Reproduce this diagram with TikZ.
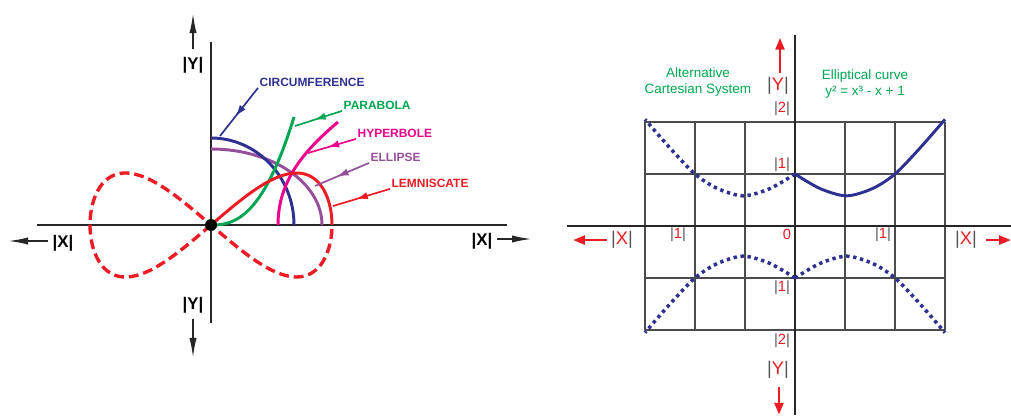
\documentclass[tikz,border=0pt]{standalone}
\usepackage{fontspec}
\setmainfont{Liberation Sans}
\usetikzlibrary{arrows.meta, decorations.markings}
\definecolor{colorAzul}{HTML}{2E3192}
\definecolor{colorVerde}{HTML}{00A651}
\definecolor{colorMagenta}{HTML}{EC008C}
\definecolor{colorMorado}{HTML}{96509B}
\definecolor{colorRojo}{HTML}{ED1C24}
\definecolor{colorBarra}{HTML}{555555}
\newcommand{\barras}[1]{{\color{colorBarra}|}{\color{colorRojo}#1}{\color{colorBarra}|}}

\begin{document}
\begin{tikzpicture}[x=0.025cm, y=0.025cm, >=Latex,
        eje/.style={line width=1.8pt, black!85},
        flecha/.style={line width=1.3pt, black!85, -{Latex[length=5mm,width=1.8mm]}},
        flechaRoja/.style={line width=2pt, colorRojo, -{Triangle[length=3mm,width=2.2mm]}},
        curva/.style={line width=2.1pt},
        solida/.style={curva, colorAzul},
        punteada/.style={line width=2.5pt, colorAzul, dash pattern=on 2.4pt off 2.6pt},
        nombre/.style={font=\bfseries\fontsize{8.5}{10}\selectfont, anchor=west, inner sep=1pt},
        indica/.style={line width=1.2pt, postaction={decorate}, decoration={markings,
            mark=at position 0.6 with {\arrow{Latex[length=3mm,width=1.8mm]}}}},
        rotulo/.style={font=\bfseries\fontsize{12}{14}\selectfont, inner sep=0pt},
        valor/.style={font=\fontsize{10.5}{12}\selectfont, inner sep=0pt},
        ejeDos/.style={font=\fontsize{13}{15}\selectfont, inner sep=0pt},
        nota/.style={font=\fontsize{9.6}{11.5}\selectfont, text=colorVerde, align=center},
        cuadro/.style={line width=0.9pt, black!70}]
    \useasboundingbox (0,0) rectangle (1011,415);

    % curvas conicas y lemniscata
    \begin{scope}[shift={(211,190)}]
        \draw[eje] (-174,0) -- (296,0);
        \draw[eje] (0,183) -- (0,-98);
        \draw[flecha] (-18,176) -- (-18,212);
        \draw[flecha] (-18,-94) -- (-18,-133);
        \draw[flecha] (-163,-16) -- (-203,-16);
        \draw[flecha] (286,-14) -- (321,-14);
        \node[rotulo] (yArr) at (-18,160) {|Y|};
        \node[rotulo] (yAbj) at (-18,-80) {|Y|};
        \node[rotulo] (xIzq) at (-148,-18) {|X|};
        \node[rotulo] (xDer) at (271,-16) {|X|};

        \draw[curva, colorMorado] (0,76) arc[start angle=90, end angle=0, x radius=111, y radius=76];
        \draw[curva, colorAzul] (0,87) arc[start angle=90, end angle=0, x radius=83, y radius=87];
        \draw[curva, colorVerde] plot[domain=0:83, samples=40, smooth] (\x, {108*(\x/83)^2*sqrt(\x/83)});
        \draw[curva, colorMagenta] (67,0) .. controls (67,45) and (94,75) .. (127,103);
        \draw[curva, colorRojo] plot[domain=0:90, samples=40, smooth] ({121*cos(\x)}, {52*sin(2*\x)});
        \draw[curva, colorRojo, line width=2.4pt, dash pattern=on 7pt off 3.5pt]
            plot[domain=90:360, samples=120, smooth] ({121*cos(\x)}, {52*sin(2*\x)});
        \fill (0,0) circle[radius=6];

        \node[nombre, text=colorAzul] (circ) at (47,143) {CIRCUMFERENCE};
        \node[nombre, text=colorVerde] (para) at (131,120) {PARABOLA};
        \node[nombre, text=colorMagenta] (hipe) at (145,92) {HYPERBOLE};
        \node[nombre, text=colorMorado] (elip) at (158,68) {ELLIPSE};
        \node[nombre, text=colorRojo] (lemn) at (179,42) {LEMNISCATE};
        \coordinate (pc) at (9,89);
        \coordinate (pp) at (84,99);
        \coordinate (ph) at (97,72);
        \coordinate (pe) at (104,39);
        \coordinate (pl) at (122,19);
        \draw[indica, colorAzul] (circ.south west) -- (pc);
        \draw[indica, colorVerde] (para.south west) -- (pp);
        \draw[indica, colorMagenta] (hipe.south west) -- (ph);
        \draw[indica, colorMorado] (elip.south west) -- (pe);
        \draw[indica, colorRojo] (lemn.south west) -- (pl);
    \end{scope}

    % sistema cartesiano alternativo
    \begin{scope}[shift={(795,189)}, x=1.25cm, y=1.3cm]
        \foreach \i in {-3,...,3}
            \draw[cuadro] (\i,-2) -- (\i,2);
        \foreach \j in {-2,...,2}
            \draw[cuadro] (-3,\j) -- (3,\j);
        \draw[eje] (-4.56,0) -- (4.32,0);
        \draw[eje] (0,3.67) -- (0,-3.63);
        \foreach \sx/\sy/\estilo in {-1/1/punteada, 1/-1/punteada, -1/-1/punteada, 1/1/solida}
            \draw[\estilo, xscale=\sx, yscale=\sy] plot[smooth]
                coordinates {(0,1) (0.5,0.72) (1.03,0.58) (1.55,0.72) (2,1) (2.5,1.5) (3,2.05)};

        \draw[flechaRoja] (-0.3,2.94) -- (-0.3,3.62);
        \draw[flechaRoja] (-0.32,-3.1) -- (-0.32,-3.63);
        \draw[flechaRoja] (-3.76,-0.27) -- (-4.44,-0.27);
        \draw[flechaRoja] (3.82,-0.27) -- (4.32,-0.27);

        \node[ejeDos] (yArr2) at (-0.34,2.69) {\barras{Y}};
        \node[valor] (dosA) at (-0.26,2.25) {\barras{2}};
        \node[valor] (unoA) at (-0.26,1.17) {\barras{1}};
        \node[valor, text=colorRojo] (cero) at (-0.16,-0.17) {0};
        \node[valor] (unoI) at (-2.34,-0.17) {\barras{1}};
        \node[valor] (unoD) at (1.76,-0.17) {\barras{1}};
        \node[valor] (unoB) at (-0.26,-1.19) {\barras{1}};
        \node[valor] (dosB) at (-0.26,-2.21) {\barras{2}};
        \node[ejeDos] (yAbj2) at (-0.34,-2.77) {\barras{Y}};
        \node[ejeDos] (xIzq2) at (-3.46,-0.27) {\barras{X}};
        \node[ejeDos] (xDer2) at (3.42,-0.27) {\barras{X}};
        \node[nota] (alt) at (-1.94,2.77) {Alternative\\Cartesian System};
        \node[nota] (eliptica) at (1.4,2.73) {Elliptical curve\\y² = x³ - x + 1};
    \end{scope}
\end{tikzpicture}
\end{document}
